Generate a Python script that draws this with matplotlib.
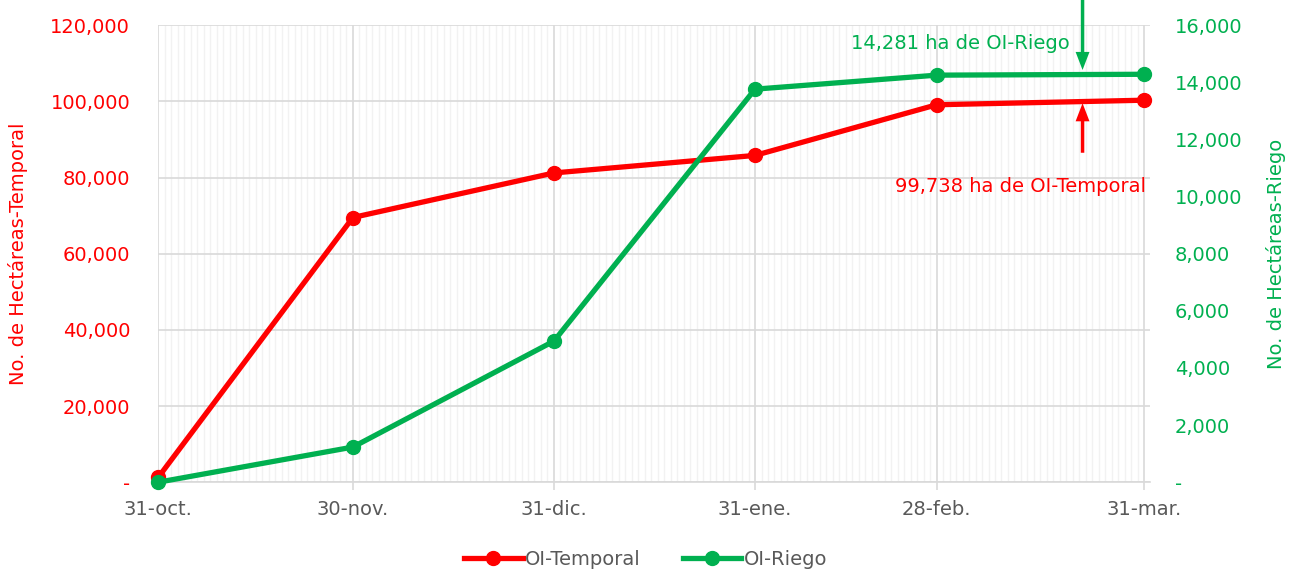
import matplotlib.pyplot as plt
import matplotlib.dates as mdates
import matplotlib.ticker as mticker
import numpy as np

plt.rcParams['font.family'] = ['DejaVu Sans']

# fechas de corte y superficie acumulada (ha)
fechas = np.array(['2023-10-31', '2023-11-30', '2023-12-31',
                   '2024-01-31', '2024-02-28', '2024-03-31'], dtype='datetime64[D]')
etiquetas = ['31-oct.', '30-nov.', '31-dic.', '31-ene.', '28-feb.', '31-mar.']
temporal = [1300, 69500, 81200, 85800, 99100, 100300]
riego = [0, 1230, 4940, 13760, 14250, 14281]

ROJO = '#FF0000'
VERDE = '#00B050'
GRIS = '#595959'
FS = 14

fig = plt.figure(figsize=(12.99, 5.72), dpi=100)
ax = fig.add_axes([158 / 1299, 0.157, (1150 - 158) / 1299, 0.799])
ax2 = ax.twinx()

x = fechas.astype(object)
l1, = ax.plot(x, temporal, color=ROJO, lw=3.8, marker='o', ms=10,
              label='OI-Temporal', zorder=5, clip_on=False)
l2, = ax2.plot(x, riego, color=VERDE, lw=3.8, marker='o', ms=10,
               label='OI-Riego', zorder=5, clip_on=False)

x0 = mdates.date2num(x[0])
x1 = mdates.date2num(x[-1])
ax.set_xlim(x0 - 0.05, x1 + 0.9)
ax.set_ylim(0, 120000)
ax2.set_ylim(0, 16000)

ax.set_xticks(x)
ax.set_xticklabels(etiquetas)
ax.xaxis.set_minor_locator(mdates.DayLocator())
ax.yaxis.set_major_locator(mticker.MultipleLocator(20000))
ax2.yaxis.set_major_locator(mticker.MultipleLocator(2000))

fmt = lambda v, p: '-' if v == 0 else f'{v:,.0f}'
ax.yaxis.set_major_formatter(mticker.FuncFormatter(fmt))
ax2.yaxis.set_major_formatter(mticker.FuncFormatter(fmt))

ax.grid(True, which='major', color='#D9D9D9', lw=1.2)
ax.grid(True, which='minor', axis='x', color='#F2F2F2', lw=1.0)
ax.set_axisbelow(True)

for a in (ax, ax2):
    for s in a.spines.values():
        s.set_visible(False)
ax.spines['bottom'].set_visible(True)
ax.spines['bottom'].set_color('#D9D9D9')
ax.spines['bottom'].set_linewidth(1.2)

ax.tick_params(axis='x', which='major', length=6, color='#D9D9D9', width=1.2,
               labelsize=FS, labelcolor=GRIS, pad=7)
ax.tick_params(axis='x', which='minor', length=0)
ax.tick_params(axis='y', length=0, labelsize=FS, labelcolor=ROJO, pad=20)
ax2.tick_params(axis='y', length=0, labelsize=FS, labelcolor=VERDE, pad=18)

ax.set_ylabel('No. de Hectáreas-Temporal', color=ROJO, fontsize=FS)
ax2.set_ylabel('No. de Hectáreas-Riego', color=VERDE, fontsize=FS)
ax.yaxis.set_label_coords(-0.131, 0.5)
ax2.yaxis.set_label_coords(1.117, 0.5)

# anotaciones con flechas
xf = x1 - 9.5
estilo = 'simple,head_width=1.0,head_length=1.3,tail_width=0.25'
ax2.annotate('', xy=(xf, riego[-1] + 150), xytext=(xf, 16900),
             arrowprops=dict(arrowstyle=estilo, color=VERDE, lw=0,
                             shrinkA=0, shrinkB=0), annotation_clip=False)
ax2.text(xf - 2, 15350, '14,281 ha de OI-Riego', color=VERDE, fontsize=FS,
         ha='right', va='center')
ax.annotate('', xy=(xf, temporal[-1] - 800), xytext=(xf, 86500),
            arrowprops=dict(arrowstyle=estilo, color=ROJO, lw=0,
                            shrinkA=0, shrinkB=0))
ax.text(x1 + 0.3, 77600, '99,738 ha de OI-Temporal', color=ROJO,
        fontsize=FS, ha='right', va='center')

fig.legend(handles=[l1, l2], loc='center', bbox_to_anchor=(0.497, 0.022), ncol=2,
           frameon=False, fontsize=FS, labelcolor=GRIS, handlelength=3.0,
           handletextpad=0.1, columnspacing=2.2)

fig.savefig('out.png', dpi=100)
